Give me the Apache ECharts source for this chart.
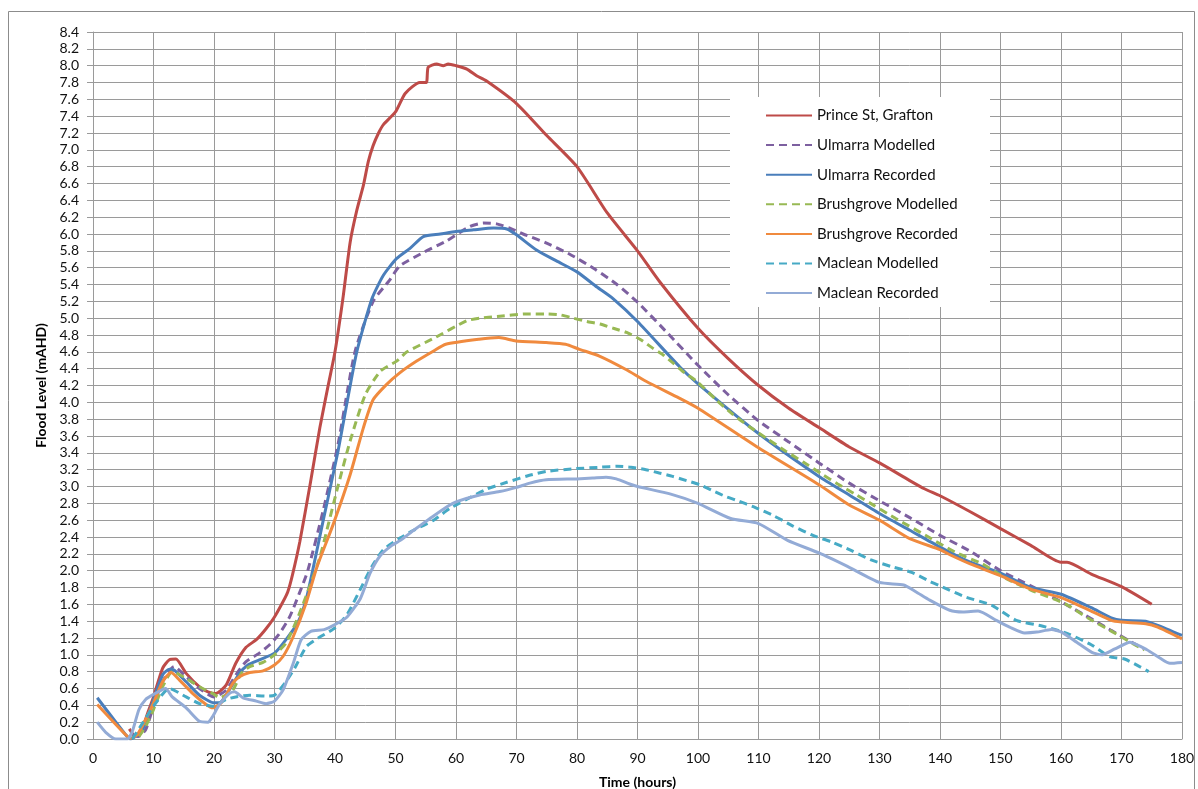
<!DOCTYPE html>
<html>
<head>
<meta charset="utf-8">
<title>Flood Level</title>
<script src="https://cdn.jsdelivr.net/npm/echarts@6/dist/echarts.min.js"></script>
<style>
	html, body { margin: 0; padding: 0; background: #fff; }
	#chart { width: 1198px; height: 789px; }
</style>
</head>
<body>
<div id="chart"></div>
<script>
// x ticks / y ticks
var xTicks = [0, 10, 20, 30, 40, 50, 60, 70, 80, 90, 100, 110, 120, 130, 140, 150, 160, 170, 180];
var yTicks = [0.0, 0.2, 0.4, 0.6, 0.8, 1.0, 1.2, 1.4, 1.6, 1.8, 2.0, 2.2, 2.4, 2.6, 2.8, 3.0, 3.2, 3.4, 3.6, 3.8, 4.0, 4.2, 4.4, 4.6, 4.8, 5.0, 5.2, 5.4, 5.6, 5.8, 6.0, 6.2, 6.4, 6.6, 6.8, 7.0, 7.2, 7.4, 7.6, 7.8, 8.0, 8.2, 8.4];

var seriesNames = ['Prince St, Grafton', 'Ulmarra Modelled', 'Ulmarra Recorded', 'Brushgrove Modelled', 'Brushgrove Recorded', 'Maclean Modelled', 'Maclean Recorded'];

// Prince St, Grafton
var princeT = [6, 7, 8, 9, 10, 11.5, 12.6, 13.7, 15.4, 17.6, 19, 20.3, 22, 23.6, 25.3, 27, 28.6, 30, 31.4, 32.2, 33, 34.2, 35.9, 37.5, 38.9, 40, 41.3, 42.5, 43.6, 44.7, 45.5, 46.3, 47.2, 48, 50, 51.6, 54, 55.1, 55.4, 56.8, 57.9, 58.7, 60, 61.8, 63.4, 65, 70, 75, 80, 85, 90, 93.7, 100, 105, 110, 115, 120, 125, 130, 135, 137.5, 140, 145, 150, 155, 160, 161, 165, 170, 175];
var princeL = [0.12, 0.03, 0.1, 0.3, 0.5, 0.84, 0.94, 0.95, 0.78, 0.62, 0.56, 0.54, 0.64, 0.9, 1.09, 1.18, 1.31, 1.45, 1.63, 1.75, 1.96, 2.35, 3.03, 3.7, 4.21, 4.6, 5.23, 5.9, 6.28, 6.58, 6.86, 7.05, 7.2, 7.3, 7.45, 7.67, 7.8, 7.8, 7.98, 8.02, 8.0, 8.02, 8.0, 7.96, 7.88, 7.82, 7.55, 7.17, 6.8, 6.25, 5.8, 5.43, 4.88, 4.52, 4.2, 3.93, 3.7, 3.47, 3.28, 3.07, 2.97, 2.89, 2.7, 2.5, 2.3, 2.1, 2.1, 1.96, 1.81, 1.6];

// Ulmarra Modelled
var ulmModT = [6.5, 7.5, 8.7, 10, 11.5, 13.4, 15.4, 17.6, 20, 22, 23.6, 25.3, 27.5, 29.2, 30.8, 32.5, 34.1, 35.5, 38, 40.5, 43.3, 46.3, 49, 50.7, 54.6, 58.5, 62.3, 64.5, 66.7, 68.9, 71.1, 74.7, 78.8, 83, 86.6, 90, 95, 100, 105, 110, 115, 120, 125, 130, 135, 140, 145, 150, 155, 160, 164, 168.3, 171.7, 173.6];
var ulmModL = [0.05, 0.03, 0.11, 0.39, 0.68, 0.86, 0.74, 0.6, 0.5, 0.58, 0.76, 0.92, 1.02, 1.12, 1.25, 1.45, 1.73, 2.0, 2.7, 3.5, 4.6, 5.2, 5.45, 5.62, 5.78, 5.92, 6.09, 6.13, 6.12, 6.07, 6.0, 5.9, 5.76, 5.58, 5.4, 5.19, 4.82, 4.44, 4.09, 3.78, 3.53, 3.28, 3.04, 2.83, 2.63, 2.42, 2.23, 2.0, 1.82, 1.63, 1.47, 1.29, 1.15, 1.07];

// Ulmarra Recorded
var ulmRecT = [0.7, 5.4, 6.2, 8.2, 10, 11.5, 12.6, 13.4, 15.4, 17.6, 20, 20.9, 22.5, 24.2, 25.6, 27.5, 30, 31.9, 33.9, 35.2, 36.3, 38, 40.5, 42, 43.6, 46.1, 48, 50.2, 52.4, 54.6, 57.4, 60, 62.9, 66.2, 68.4, 70, 73.3, 76.6, 80, 83.3, 86, 90, 97, 100, 110, 120, 125, 130, 135, 140, 145, 150, 155, 160, 165, 168.3, 170, 174, 176, 180];
var ulmRecL = [0.49, 0.05, 0.0, 0.11, 0.47, 0.76, 0.83, 0.82, 0.68, 0.52, 0.43, 0.43, 0.58, 0.78, 0.88, 0.94, 1.02, 1.18, 1.39, 1.65, 2.0, 2.58, 3.42, 4.0, 4.6, 5.23, 5.51, 5.71, 5.83, 5.97, 6.0, 6.03, 6.05, 6.07, 6.06, 5.99, 5.81, 5.68, 5.55, 5.37, 5.23, 4.96, 4.42, 4.22, 3.63, 3.12, 2.9, 2.68, 2.48, 2.28, 2.1, 1.97, 1.8, 1.72, 1.56, 1.44, 1.41, 1.4, 1.35, 1.23];

// Brushgrove Modelled
var brushModT = [7.6, 8.7, 10, 11.5, 13.1, 15.4, 17.6, 19.8, 20.9, 23.1, 24.5, 25.9, 28.1, 30, 31.9, 33.9, 35.8, 37.5, 40.3, 42.5, 45, 47.5, 50.2, 51.9, 56.3, 61.8, 64, 66.8, 71.7, 75, 77.2, 79.4, 81.6, 83.8, 86, 88.2, 90.4, 92.4, 94.3, 96, 97.8, 99.8, 103, 105.7, 108.7, 111.6, 114.5, 117.4, 120.4, 123.1, 126.2, 129.2, 132.7, 138.1, 142.5, 147, 151.1, 155, 160.6, 164.4, 168.6, 172.7, 173.8];
var brushModL = [0.03, 0.15, 0.35, 0.62, 0.8, 0.72, 0.62, 0.54, 0.49, 0.58, 0.78, 0.86, 0.91, 1.0, 1.14, 1.45, 1.81, 2.16, 2.95, 3.54, 4.09, 4.37, 4.49, 4.6, 4.76, 4.97, 5.0, 5.02, 5.05, 5.05, 5.04, 5.0, 4.96, 4.93, 4.88, 4.83, 4.75, 4.65, 4.56, 4.46, 4.35, 4.25, 4.03, 3.86, 3.7, 3.56, 3.42, 3.29, 3.15, 3.03, 2.9, 2.77, 2.62, 2.4, 2.22, 2.08, 1.9, 1.77, 1.61, 1.44, 1.27, 1.1, 1.06];

// Brushgrove Recorded
var brushRecT = [0.7, 5.4, 6.2, 7.3, 8.7, 10, 11.5, 12.9, 14.3, 16.5, 18.7, 19.8, 21.2, 23.1, 24.2, 25.9, 28.1, 30, 31.4, 33, 35.2, 37, 39.7, 42.5, 44.7, 46.3, 48.5, 50.7, 53.5, 56.3, 58.3, 63.8, 67.1, 69.9, 74.9, 78.1, 80.4, 83.7, 88.1, 91.4, 96.9, 100, 110, 120, 125, 130, 135, 140, 141.9, 145, 150, 155, 160, 165, 168.3, 170, 174, 176, 180];
var brushRecL = [0.41, 0.05, 0.01, 0.05, 0.23, 0.43, 0.68, 0.79, 0.7, 0.54, 0.41, 0.37, 0.43, 0.66, 0.74, 0.79, 0.81, 0.88, 0.98, 1.2, 1.61, 2.04, 2.55, 3.14, 3.7, 4.03, 4.21, 4.35, 4.49, 4.61, 4.69, 4.75, 4.77, 4.73, 4.71, 4.69, 4.63, 4.55, 4.39, 4.25, 4.05, 3.93, 3.46, 3.02, 2.78, 2.6, 2.38, 2.25, 2.18, 2.08, 1.94, 1.78, 1.68, 1.52, 1.41, 1.39, 1.37, 1.33, 1.19];

// Maclean Modelled
var macModT = [6.5, 8.2, 10, 12.6, 15.4, 17.6, 19.8, 22, 23.6, 25.9, 28.6, 30, 31.9, 33.4, 35.3, 37.7, 40, 42, 44.2, 46.1, 48, 50.8, 53, 56.3, 59, 61.8, 65.1, 68.4, 72, 75, 79.4, 84.1, 86.6, 88.9, 91.4, 93.6, 95.8, 98.1, 100.3, 102.4, 104.6, 106.2, 109.5, 112.6, 115.7, 119, 122.1, 125.3, 128.5, 131.9, 135.3, 138.4, 140, 144.1, 148.5, 152.6, 157, 161.2, 165, 168, 170.5, 173, 174.5];
var macModL = [0.0, 0.19, 0.39, 0.6, 0.5, 0.42, 0.39, 0.47, 0.5, 0.52, 0.51, 0.52, 0.68, 0.85, 1.1, 1.22, 1.32, 1.48, 1.78, 2.05, 2.25, 2.39, 2.48, 2.6, 2.74, 2.85, 2.97, 3.05, 3.13, 3.18, 3.21, 3.23, 3.24, 3.23, 3.2, 3.16, 3.12, 3.07, 3.02, 2.95, 2.88, 2.84, 2.75, 2.65, 2.53, 2.42, 2.34, 2.24, 2.13, 2.05, 1.98, 1.87, 1.82, 1.69, 1.59, 1.41, 1.34, 1.25, 1.12, 0.98, 0.95, 0.86, 0.8];

// Maclean Recorded
var macRecT = [0.7, 2.1, 3.8, 5.7, 6.5, 7.6, 8.7, 10, 12, 13.1, 15.4, 17.6, 19, 19.8, 20.9, 22.5, 23.4, 24.8, 27, 28.6, 30, 31.4, 33.1, 34.4, 36, 38.2, 40, 42, 44.2, 45.8, 47.5, 49.4, 50.8, 53, 55.7, 58.5, 60.1, 63.9, 67.2, 70, 72.2, 74.9, 79.9, 82.6, 84.8, 86.5, 88.7, 90, 95.5, 100, 105.4, 110, 114.8, 120, 124.7, 130, 134, 136, 138.3, 141.6, 143.8, 146.3, 149.3, 151.5, 154, 156, 158.4, 160.1, 162.6, 165.1, 166.7, 168.9, 171.4, 174.2, 176.4, 178, 180];
var macRecL = [0.2, 0.08, 0.0, 0.0, 0.09, 0.35, 0.47, 0.53, 0.6, 0.5, 0.37, 0.21, 0.2, 0.27, 0.41, 0.54, 0.56, 0.49, 0.45, 0.42, 0.45, 0.58, 0.9, 1.18, 1.28, 1.3, 1.36, 1.45, 1.67, 1.97, 2.18, 2.3, 2.36, 2.48, 2.62, 2.76, 2.82, 2.9, 2.94, 2.99, 3.04, 3.08, 3.09, 3.1, 3.11, 3.09, 3.03, 3.0, 2.91, 2.8, 2.62, 2.56, 2.36, 2.21, 2.05, 1.86, 1.83, 1.75, 1.65, 1.53, 1.51, 1.52, 1.41, 1.33, 1.26, 1.27, 1.3, 1.27, 1.15, 1.03, 1.0, 1.07, 1.15, 1.06, 0.96, 0.9, 0.91];

var colors = ['#be4b48', '#7d60a0', '#4a7ebb', '#98b954', '#f08a3e', '#46aac5', '#93abd6'];
var dashed = [false, true, false, true, false, true, false];
var allT = [princeT, ulmModT, ulmRecT, brushModT, brushRecT, macModT, macRecT];
var allL = [princeL, ulmModL, ulmRecL, brushModL, brushRecL, macModL, macRecL];

function zip(t, l) {
	var out = [];
	for(var i = 0; i < t.length; i++) {
		out.push([t[i], l[i]]);
	}
	return out;
}

var series = [];
for(var i = 0; i < seriesNames.length; i++) {
	series.push({
		name: seriesNames[i],
		type: 'line',
		data: zip(allT[i], allL[i]),
		showSymbol: false,
		symbol: 'none',
		smooth: 0.2,
		animation: false,
		lineStyle: {
			color: colors[i],
			width: 3,
			type: dashed[i] ? [8, 5] : 'solid'
		},
		itemStyle: { color: colors[i] }
	});
}

var font = 'Lato, "Open Sans", sans-serif';
var gridColor = '#9a9a9a';

var chart = echarts.init(document.getElementById('chart'), null, { renderer: 'canvas' });
chart.setOption({
	backgroundColor: '#fff',
	animation: false,
	grid: { left: 93, right: 16, top: 32, bottom: 50, outerBoundsMode: 'none' },
	graphic: [
		{
			type: 'rect',
			z: 0,
			shape: { x: 8.5, y: 11.5, width: 1186, height: 800 },
			style: { fill: 'none', stroke: '#8c8c8c', lineWidth: 1 }
		},
		{
			type: 'rect',
			z: 3,
			shape: { x: 730, y: 97, width: 260, height: 210 },
			style: { fill: '#fff', stroke: 'none' }
		}
	],
	legend: {
		data: seriesNames,
		orient: 'vertical',
		left: 760,
		top: 103,
		z: 4,
		itemWidth: 46,
		itemHeight: 14,
		itemGap: 14.6,
		itemStyle: { opacity: 0 },
		textStyle: { fontFamily: font, fontSize: 15, color: '#111' }
	},
	xAxis: {
		type: 'value',
		min: xTicks[0],
		max: xTicks[xTicks.length - 1],
		interval: 10,
		name: 'Time (hours)',
		nameLocation: 'middle',
		nameGap: 36,
		nameTextStyle: { fontFamily: font, fontSize: 14, fontWeight: 'bold', color: '#000' },
		axisLine: { show: true, onZero: false, lineStyle: { color: gridColor } },
		axisTick: { show: false },
		axisLabel: { fontFamily: font, fontSize: 14, color: '#111', margin: 12 },
		splitLine: { show: true, lineStyle: { color: gridColor, width: 1 } }
	},
	yAxis: {
		type: 'value',
		min: yTicks[0],
		max: yTicks[yTicks.length - 1],
		interval: 0.2,
		name: 'Flood Level (mAHD)',
		nameLocation: 'middle',
		nameRotate: 90,
		nameGap: 44,
		nameTextStyle: { fontFamily: font, fontSize: 14, fontWeight: 'bold', color: '#000' },
		axisLine: { show: true, lineStyle: { color: gridColor } },
		axisTick: { show: true, length: 6, lineStyle: { color: gridColor } },
		axisLabel: {
			fontFamily: font, fontSize: 14, color: '#111', margin: 14,
			formatter: function(v) { return v.toFixed(1); }
		},
		splitLine: { show: true, lineStyle: { color: gridColor, width: 1 } }
	},
	series: series
});
</script>
</body>
</html>
